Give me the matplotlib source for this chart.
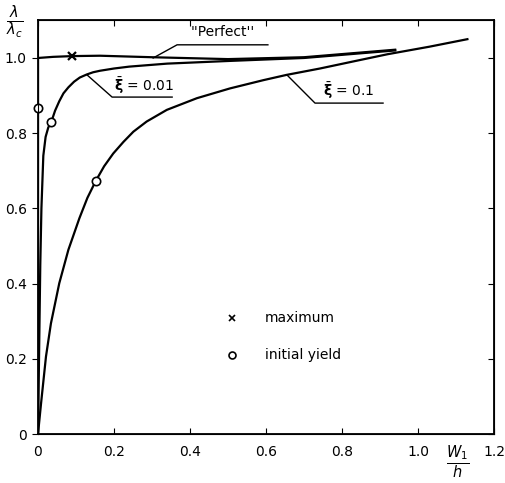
import matplotlib
matplotlib.use("Agg")
import matplotlib.pyplot as plt

# ---- data ----
perfect_x = [0.0, 0.0, 0.04, 0.09, 0.163, 0.3, 0.5, 0.7, 0.94]
perfect_y = [0.0, 1.0, 1.003, 1.005, 1.006, 1.002, 0.997, 1.002, 1.022]

xi001_x = [0.0, 0.002, 0.004, 0.006, 0.009, 0.014, 0.02, 0.027, 0.035, 0.045, 0.056, 0.067, 0.08, 0.095, 0.11, 0.128, 0.145, 0.163, 0.2, 0.24, 0.34, 0.5, 0.7, 0.94]
xi001_y = [0.0, 0.15, 0.3, 0.45, 0.6, 0.74, 0.79, 0.815, 0.83, 0.86, 0.885, 0.906, 0.922, 0.937, 0.948, 0.956, 0.962, 0.966, 0.972, 0.977, 0.985, 0.992, 1.0, 1.02]

xi01_x = [0.0, 0.008, 0.021, 0.034, 0.056, 0.08, 0.109, 0.13, 0.152, 0.174, 0.198, 0.225, 0.251, 0.286, 0.339, 0.418, 0.505, 0.593, 0.654, 0.742, 0.84, 0.92, 1.03, 1.13]
xi01_y = [0.0, 0.081, 0.206, 0.294, 0.401, 0.49, 0.574, 0.628, 0.673, 0.712, 0.746, 0.777, 0.804, 0.831, 0.862, 0.893, 0.919, 0.941, 0.955, 0.972, 0.993, 1.01, 1.03, 1.05]

max_x = [0.09]
max_y = [1.005]
yield_x = [0.0, 0.035, 0.152]
yield_y = [0.867, 0.83, 0.673]

xticks = [0, 0.2, 0.4, 0.6, 0.8, 1.0, 1.2]
xtick_labels = ["0", "0.2", "0.4", "0.6", "0.8", "1.0", "1.2"]
yticks = [0, 0.2, 0.4, 0.6, 0.8, 1.0]
ytick_labels = ["0", "0.2", "0.4", "0.6", "0.8", "1.0"]

W, H = 506, 483
fig = plt.figure(figsize=(W / 100, H / 100), dpi=100)
ax = fig.add_axes([38 / W, 1 - 434 / H, (494 - 38) / W, (434 - 20) / H])
ax.set_xlim(0, 1.2)
ax.set_ylim(0, 1.101)

lw = 1.6
ax.plot(perfect_x, perfect_y, color="black", lw=lw, solid_joinstyle="round")
ax.plot(xi001_x, xi001_y, color="black", lw=lw, solid_joinstyle="round")
ax.plot(xi01_x, xi01_y, color="black", lw=lw, solid_joinstyle="round")
ax.plot(max_x, max_y, ls="none", marker="x", color="black", ms=6, mew=1.6)
ax.plot(yield_x, yield_y, ls="none", marker="o", mfc="white", mec="black", ms=6, mew=1.2, clip_on=False, zorder=5)

# leader lines and labels
def leader(pts):
    xs, ys = zip(*pts)
    ax.plot(xs, ys, color="black", lw=1.0, clip_on=False)

leader([(0.303, 1.0), (0.366, 1.035), (0.605, 1.035)])
ax.text(0.485, 1.07, "''Perfect''", ha="center", va="center", fontsize=10)
leader([(0.129, 0.955), (0.195, 0.896), (0.353, 0.896)])
ax.text(0.20, 0.927, r"$\bar{\mathbf{\xi}}$ = 0.01", ha="left", va="center", fontsize=10)
leader([(0.655, 0.955), (0.729, 0.880), (0.908, 0.880)])
ax.text(0.75, 0.913, r"$\bar{\mathbf{\xi}}$ = 0.1", ha="left", va="center", fontsize=10)

# legend text
ax.plot([0.51], [0.309], marker="x", color="black", ms=5, mew=1.2, ls="none")
ax.text(0.597, 0.309, "maximum", ha="left", va="center", fontsize=10)
ax.plot([0.51], [0.21], marker="o", mfc="white", mec="black", ms=5, mew=1.2, ls="none")
ax.text(0.597, 0.21, "initial yield", ha="left", va="center", fontsize=10)

ax.set_xticks(xticks)
ax.set_xticklabels(xtick_labels, fontsize=10)
ax.set_yticks(yticks)
ax.set_yticklabels(ytick_labels, fontsize=10)
ax.tick_params(axis="x", direction="in", top=True, length=4, pad=8)
ax.tick_params(axis="y", direction="out", length=4, pad=4)
ax.tick_params(axis="y", which="both", right=False)
for s in ax.spines.values():
    s.set_linewidth(1.3)

# right-side inward ticks
ax2 = ax.twinx()
ax2.set_ylim(ax.get_ylim())
ax2.set_yticks(yticks)
ax2.set_yticklabels([])
ax2.tick_params(axis="y", direction="in", length=4)

# axis labels as fractions
fig.text(15 / W, 1 - 22 / H, r"$\frac{\lambda}{\lambda_c}$", ha="center", va="center", fontsize=15)
fig.text(458 / W, 1 - 462 / H, r"$\frac{W_1}{h}$", ha="center", va="center", fontsize=15)

fig.savefig("out.png", dpi=100)
